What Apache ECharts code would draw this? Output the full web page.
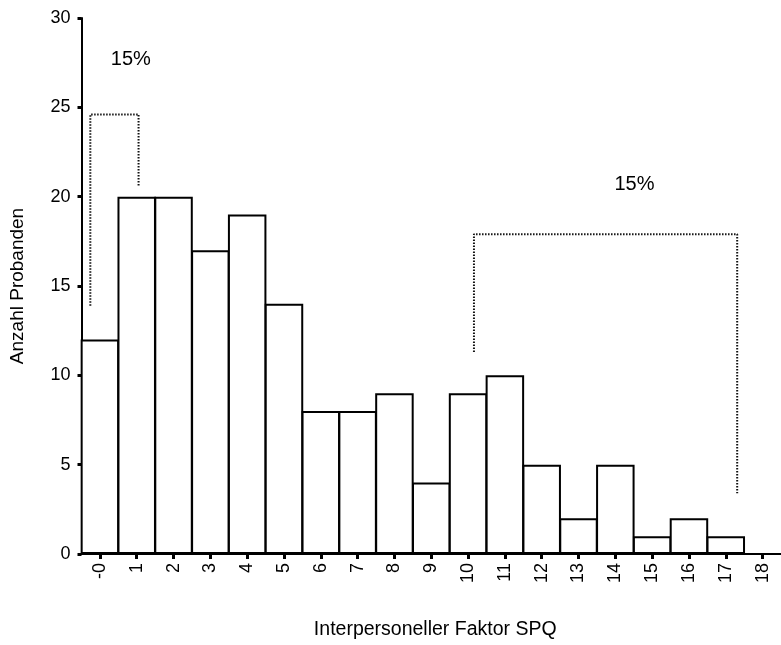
<!DOCTYPE html>
<html>
<head>
<meta charset="utf-8">
<script src="https://cdn.jsdelivr.net/npm/echarts@6/dist/echarts.min.js"></script>
<style>
html,body{margin:0;padding:0;background:#fff;}
#chart{width:781px;height:645px;}
</style>
</head>
<body>
<div id="chart"></div>
<script>
// Categories (bins) and counts
var categories = ['-0','1','2','3','4','5','6','7','8','9','10','11','12','13','14','15','16','17','18'];
var counts = [12, 20, 20, 17, 19, 14, 8, 8, 9, 4, 9, 10, 5, 2, 5, 1, 2, 1, null];
var yTicks = [0, 5, 10, 15, 20, 25, 30];

// Annotation brackets in bin units (x) and count units (y)
var bracketLeft = [[0.24, 13.9], [0.24, 24.6], [1.55, 24.6], [1.55, 20.6]];
var bracketRight = [[10.66, 11.3], [10.66, 17.9], [17.81, 17.9], [17.81, 3.4]];
var percentLabels = [[1.34, 27.7, '15%'], [15.02, 20.7, '15%']];

var FONT = '"Liberation Sans", Arial, Helvetica, sans-serif';
var chart = echarts.init(document.getElementById('chart'), null, {renderer: 'canvas'});

var option = {
  animation: false,
  backgroundColor: '#ffffff',
  textStyle: {fontFamily: FONT, color: '#000'},
  grid: {left: 81.5, top: 18, width: 701, height: 540, containLabel: false},
  xAxis: [{
    type: 'category',
    data: categories,
    boundaryGap: true,
    name: 'Interpersoneller Faktor SPQ',
    nameLocation: 'middle',
    nameGap: 66,
    nameTextStyle: {fontSize: 19.5, color: '#000', fontFamily: FONT, padding: [0, 0, 0, 8]},
    axisLine: {show: true, lineStyle: {color: '#000', width: 2}},
    axisTick: {show: true, alignWithLabel: true, length: 5, lineStyle: {color: '#000', width: 3}},
    axisLabel: {show: true, interval: 0, rotate: 90, margin: 9, fontSize: 18, color: '#000', fontFamily: FONT},
    splitLine: {show: false}
  }, {
    type: 'value',
    min: 0,
    max: categories.length,
    show: false
  }],
  yAxis: {
    type: 'value',
    min: yTicks[0],
    max: yTicks[yTicks.length - 1],
    interval: 5,
    name: 'Anzahl Probanden',
    nameLocation: 'middle',
    nameGap: 54,
    nameTextStyle: {fontSize: 19, color: '#000', fontFamily: FONT},
    axisLine: {show: true, lineStyle: {color: '#000', width: 2}},
    axisTick: {show: true, length: 4, lineStyle: {color: '#000', width: 3}},
    axisLabel: {show: true, margin: 11, fontSize: 18, color: '#000', fontFamily: FONT},
    splitLine: {show: false}
  },
  series: [{
    type: 'bar',
    xAxisIndex: 0,
    data: counts,
    barWidth: 38.5,
    itemStyle: {color: '#ffffff', borderColor: '#000', borderWidth: 2},
    silent: true
  }, {
    type: 'line',
    xAxisIndex: 1,
    data: bracketLeft,
    symbol: 'none',
    lineStyle: {color: '#111', width: 2, type: [1.5, 1.5]},
    silent: true
  }, {
    type: 'line',
    xAxisIndex: 1,
    data: bracketRight,
    symbol: 'none',
    lineStyle: {color: '#111', width: 2, type: [1.5, 1.5]},
    silent: true
  }, {
    type: 'scatter',
    xAxisIndex: 1,
    data: percentLabels,
    symbolSize: 0,
    itemStyle: {opacity: 1},
    label: {
      show: true,
      position: [0, 0],
      align: 'center',
      verticalAlign: 'middle',
      formatter: function (p) { return p.value[2]; },
      fontSize: 20,
      color: '#000',
      textBorderWidth: 0,
      fontFamily: FONT
    },
    silent: true
  }]
};
chart.setOption(option);
</script>
</body>
</html>
